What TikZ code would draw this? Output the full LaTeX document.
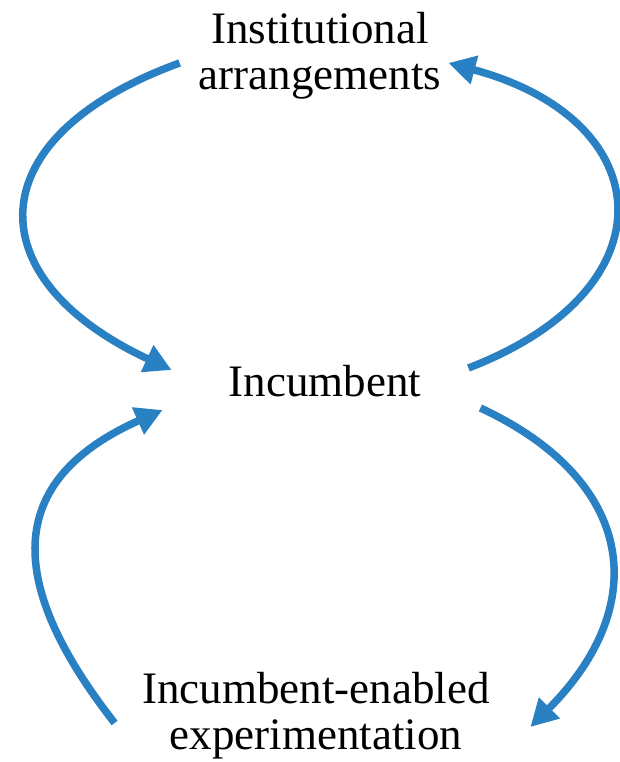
\documentclass[tikz,border=0pt]{standalone}
\usepackage{fontspec}
\setmainfont{Liberation Serif}
\usetikzlibrary{arrows.meta}
\definecolor{arrowblue}{RGB}{41,128,194}

\begin{document}
\begin{tikzpicture}[x=1pt,y=1pt,>={Triangle[length=27pt,width=28pt]},node distance=326pt,
                    main node/.style={inner sep=0pt,align=center,font=\fontsize{45}{46}\selectfont},
                    loop arrow/.style={->,draw=arrowblue,line width=7.5pt}]
  \useasboundingbox (0,0) rectangle (620,762);
  \node[main node] (inc) at (325,380.5) {Incumbent};
  \node[main node,xshift=-5pt] (inst) [above of=inc] {Institutional\\arrangements};
  \node[main node,xshift=-9pt,node distance=334.5pt] (expt) [below of=inc] {Incumbent-enabled\\experimentation};
  \path
    ([shift={(-19,-7.5)}]inst.west) edge [loop arrow,out=200,in=155,looseness=1.8] ([shift={(-57,11.5)}]inc.west)
    ([shift={(47,13.5)}]inc.east)   edge [loop arrow,out=21,in=-15,looseness=1.84]  ([shift={(7,-7.5)}]inst.east)
    ([shift={(59,-26.5)}]inc.east)  edge [loop arrow,out=-25,in=45,looseness=1.36]  ([shift={(40.5,-11)}]expt.east)
    ([shift={(-27.5,-7)}]expt.west) edge [loop arrow,out=128,in=204,looseness=1.42] ([shift={(-66,-28.5)}]inc.west)
    ;
\end{tikzpicture}
\end{document}
